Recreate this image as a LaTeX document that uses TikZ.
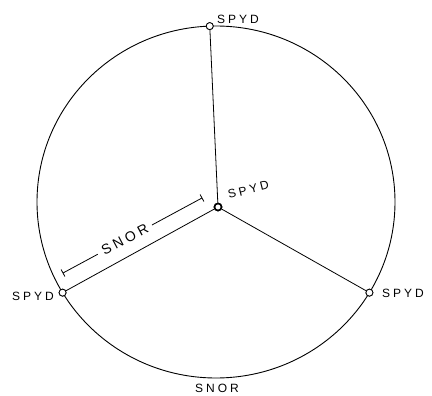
\documentclass[tikz,border=0pt]{standalone}
\usepackage{fontspec}
\usetikzlibrary{calc}
\newfontfamily\handfont[LetterSpace=25]{Liberation Sans}
\begin{document}
\begin{tikzpicture}[x=1pt,y=-1pt,
  ring/.style={line width=0.9pt},
  spoke/.style={line width=0.8pt},
  pinnode/.style={circle, draw, line width=0.8pt, fill=white, inner sep=0pt, minimum size=7pt},
  hubnode/.style={circle, draw, line width=1.6pt, fill=white, inner sep=0pt, minimum size=7pt},
  lbl/.style={font=\handfont\fontsize{12}{13}\selectfont, inner sep=1pt},
  dimline/.style={line width=0.8pt}]
\useasboundingbox (0,0) rectangle (432,396);
% outer ring
\coordinate (o) at (216,202);
\draw[ring] (o) ellipse [x radius=179, y radius=176];
% nodes
\node[hubnode] (c) at (218,207) {};
\node[pinnode] (t) at ($(o)+(92:179 and -176)$) {};
\node[pinnode] (l) at ($(o)+(211:179 and -176)$) {};
\node[pinnode] (r) at ($(o)+(-31:179 and -176)$) {};
% spokes
\draw[spoke] (c) -- (t);
\draw[spoke] (c) -- (l);
\draw[spoke] (c) -- (r);
% redraw nodes on top
\node[hubnode] at (c) {};
\node[pinnode] at (t) {};
\node[pinnode] at (l) {};
\node[pinnode] at (r) {};
% labels
\node[lbl, anchor=west] (tl) at (216,19) {SPYD};
\node[lbl, anchor=west, rotate=14] (cl) at (227,195) {SPYD};
\node[lbl, anchor=east] (ll) at (55,296) {SPYD};
\node[lbl, anchor=west] (rl) at (381,293) {SPYD};
\node[lbl] (bl) at (217,388) {SNOR};
% dimension line
\coordinate (dA) at (63,273);
\coordinate (dB) at (202,198);
\coordinate (gA) at ($(dA)!0.25!(dB)$);
\coordinate (gB) at ($(dA)!0.64!(dB)$);
\node[lbl, font=\handfont\fontsize{14}{15}\selectfont, rotate=28] (dl) at ($(dA)!0.445!(dB)$) {SNOR};
\draw[dimline] (dA) -- (gA);
\draw[dimline] (gB) -- (dB);
\draw[dimline] ($(dA)!4pt!90:(dB)$) -- ($(dA)!4pt!-90:(dB)$);
\draw[dimline] ($(dB)!4pt!90:(dA)$) -- ($(dB)!4pt!-90:(dA)$);
\end{tikzpicture}
\end{document}
